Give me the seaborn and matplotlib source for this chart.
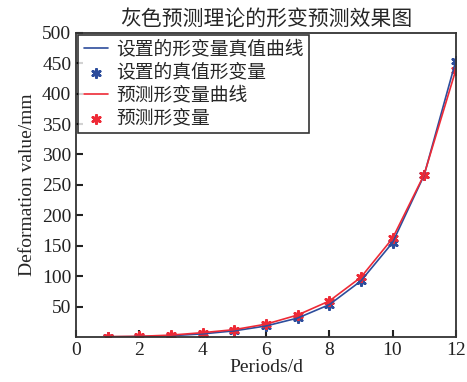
import matplotlib
matplotlib.use("Agg")
import matplotlib.pyplot as plt
import seaborn as sns
import pandas as pd

# data
periods = [1, 2, 3, 4, 5, 6, 7, 8, 9, 10, 11, 12]
true_deform = [0.2, 0.6, 2, 5, 10, 18, 31, 53, 92, 155, 266, 454]
pred_deform = [0.5, 1.0, 3, 7, 12, 21, 36, 59, 98, 162, 267, 439]

title = "灰色预测理论的形变预测效果图"
labels = ["设置的形变量真值曲线", "设置的真值形变量", "预测形变量曲线", "预测形变量"]
xlabel = "Periods/d"
ylabel = "Deformation value/mm"

sns.set_style("ticks")
plt.rcParams['font.family'] = ['Liberation Serif', 'Noto Sans CJK SC']
plt.rcParams['xtick.direction'] = 'in'
plt.rcParams['ytick.direction'] = 'in'

df = pd.DataFrame({"period": periods, "true": true_deform, "pred": pred_deform})

blue = "#2d4d9c"
red = "#ee2a36"
star = (6, 2, 0)  # asterisk-like marker

fig = plt.figure(figsize=(4.67, 3.82), dpi=100)
ax = fig.add_axes([0.163, 0.118, 0.813, 0.796])

sns.lineplot(data=df, x="period", y="true", color=blue, lw=1.2, label=labels[0], ax=ax)
sns.scatterplot(data=df, x="period", y="true", color=blue, marker=star, s=35,
                edgecolor=blue, linewidth=2.0, label=labels[1], ax=ax)
sns.lineplot(data=df, x="period", y="pred", color=red, lw=1.2, label=labels[2], ax=ax)
sns.scatterplot(data=df, x="period", y="pred", color=red, marker=star, s=35,
                edgecolor=red, linewidth=2.0, label=labels[3], ax=ax)

ax.set_xlim(0, 12)
ax.set_ylim(0, 500)
ax.set_xticks(range(0, 13, 2))
ax.set_yticks(range(50, 501, 50))
ax.tick_params(labelsize=14, length=5, width=1.5, colors="#222222")
ax.tick_params(top=False, right=False)
for sp in ax.spines.values():
    sp.set_linewidth(1.3)
    sp.set_color("#333333")

ax.set_xlabel(xlabel, fontsize=14, labelpad=0)
ax.set_ylabel(ylabel, fontsize=14, labelpad=4)
ax.set_title(title, fontsize=15, pad=6)

leg = ax.legend(loc="upper left", fontsize=13.5, frameon=True, fancybox=False,
                edgecolor="black", handlelength=1.3, borderpad=0.3,
                labelspacing=0.28, handletextpad=0.4, borderaxespad=0.12)
leg.get_frame().set_linewidth(1.2)

fig.savefig("out.png", dpi=100)
